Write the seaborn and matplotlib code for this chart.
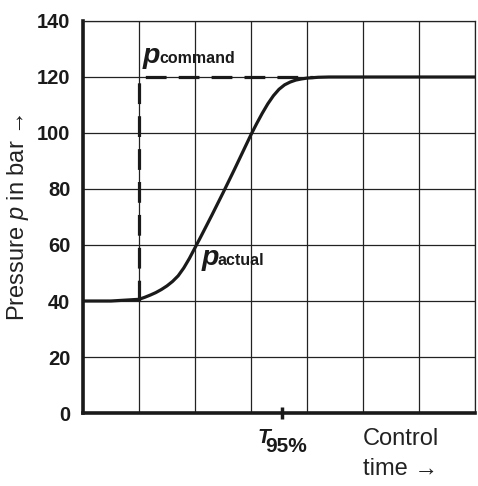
import matplotlib
matplotlib.use("Agg")
import matplotlib.pyplot as plt
import seaborn as sns
import pandas as pd

# actual pressure curve
t_actual = [0.0, 0.5, 1.0, 1.1, 1.2, 1.3, 1.4, 1.5, 1.6, 1.7, 1.8, 1.9,
            2.0, 2.1, 2.2, 2.3, 2.4, 2.5, 2.6, 2.7, 2.8, 2.9, 3.0, 3.1,
            3.2, 3.3, 3.4, 3.5, 3.6, 3.7, 3.8, 3.9, 4.0, 4.2, 4.4, 7.0]
p_actual = [40, 40, 40.6, 41.3, 42.1, 43.0, 44.1, 45.4, 47.0, 49.0, 51.8, 55.2,
            59.0, 62.8, 66.7, 70.6, 74.6, 78.6, 82.7, 86.8, 91.0, 95.2, 99.4, 103.3,
            107.0, 110.4, 113.3, 115.6, 117.2, 118.2, 118.9, 119.3, 119.6, 119.9, 120, 120]

# commanded pressure step
t_command = [1.0, 1.0, 4.1]
p_command = [40, 120, 120]

t95 = 3.55
y_ticks = [0, 20, 40, 60, 80, 100, 120, 140]

sns.set_style("white")
plt.rcParams['font.family'] = ['Liberation Sans', 'DejaVu Sans']
plt.rcParams['mathtext.fontset'] = 'custom'
plt.rcParams['mathtext.it'] = 'Liberation Sans:italic'
plt.rcParams['mathtext.bf'] = 'Liberation Sans:bold'
plt.rcParams['mathtext.bfit'] = 'Liberation Sans:bold:italic'

ink = "#1a1a1a"
fig = plt.figure(figsize=(4.78, 4.86), dpi=100)
ax = fig.add_axes([0.1736, 0.1502, 0.8201, 0.8066])

df_act = pd.DataFrame({"t": t_actual, "p": p_actual})
df_cmd = pd.DataFrame({"t": t_command, "p": p_command})

sns.lineplot(data=df_act, x="t", y="p", ax=ax, color=ink, lw=2.3,
             sort=False, estimator=None, zorder=3)
sns.lineplot(data=df_cmd, x="t", y="p", ax=ax, color=ink, lw=2.3,
             sort=False, estimator=None, zorder=3, linestyle=(0, (6.5, 3.8)))

ax.set_xlim(0, 7)
ax.set_ylim(0, 140)
ax.set_xticks(range(8), minor=True)
ax.set_xticks([t95])
ax.set_xticklabels([""])
ax.set_yticks(y_ticks)
ax.set_yticklabels([str(v) for v in y_ticks], fontsize=14.5, fontweight="bold",
                   color=ink)
ax.grid(True, which="minor", axis="x", color="#222222", lw=0.9)
ax.grid(True, which="major", axis="y", color="#222222", lw=0.9)
ax.grid(False, which="major", axis="x")
ax.set_axisbelow(True)
ax.tick_params(axis="y", length=0, pad=9)
ax.tick_params(axis="x", which="major", bottom=True, direction="inout",
               length=8, width=2.5, color=ink)
ax.tick_params(axis="x", which="minor", length=0)

for side in ["left", "bottom"]:
    ax.spines[side].set_linewidth(2.6)
    ax.spines[side].set_color(ink)
for side in ["top", "right"]:
    ax.spines[side].set_linewidth(0.9)
    ax.spines[side].set_color("#222222")

ax.set_xlabel("")
ax.set_ylabel(r"Pressure $\it{p}$ in bar →", fontsize=17, color="#222222",
              labelpad=4)

ax.text(1.05, 125, r"$\mathbfit{p}$", fontsize=20.5, color=ink)
ax.text(1.37, 125, "command", fontsize=11.5, fontweight="bold", color=ink)
ax.text(2.11, 52.8, r"$\mathbfit{p}$", fontsize=20.5, color=ink)
ax.text(2.41, 52.8, "actual", fontsize=11.5, fontweight="bold", color=ink)

ax.text(3.1, -10.7, r"$\mathbfit{T}$", fontsize=15, color=ink, va="baseline")
ax.text(3.26, -13.9, "95%", fontsize=15, fontweight="bold", color=ink,
        va="baseline")
ax.text(5.0, -5.3, "Control\ntime →", fontsize=17, color="#222222",
        va="top", linespacing=1.5)

fig.savefig("out.png", dpi=100)
